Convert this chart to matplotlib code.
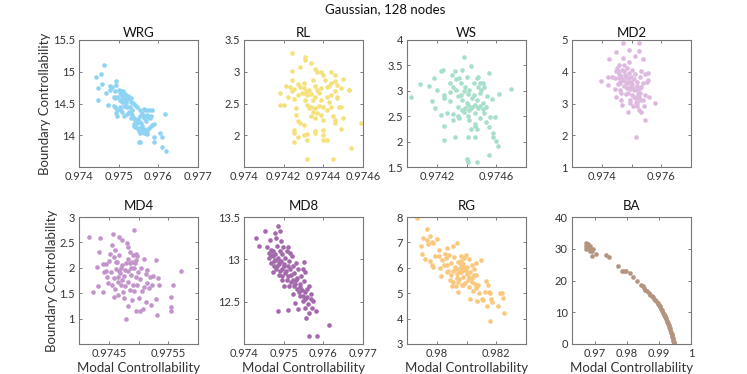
import matplotlib
matplotlib.use('Agg')
import matplotlib.pyplot as plt
from matplotlib.ticker import FuncFormatter

plt.rcParams['font.family'] = ['Lato', 'DejaVu Sans']

# ---- data ----
wrg_x = [0.97463, 0.97443, 0.97455, 0.97447, 0.97449, 0.97459, 0.97469, 0.97473, 0.97479, 0.97483,
         0.97477, 0.97494, 0.97493, 0.97487, 0.97492, 0.97490, 0.97494, 0.97497, 0.97500, 0.97504,
         0.97506, 0.97511, 0.97514, 0.97504, 0.97508, 0.97513, 0.97517, 0.97519, 0.97524, 0.97528,
         0.97534, 0.97503, 0.97506, 0.97509, 0.97514, 0.97521, 0.97525, 0.97530, 0.97534, 0.97538,
         0.97542, 0.97547, 0.97538, 0.97548, 0.97555, 0.97559, 0.97564, 0.97565, 0.97569, 0.97572,
         0.97576, 0.97585, 0.97538, 0.97542, 0.97547, 0.97555, 0.97559, 0.97564, 0.97568, 0.97572,
         0.97576, 0.97581, 0.97585, 0.97589, 0.97551, 0.97555, 0.97564, 0.97568, 0.97572, 0.97553,
         0.97562, 0.97551, 0.97555, 0.97589, 0.97589, 0.97604, 0.97610, 0.97608, 0.97616, 0.97619,
         0.97564, 0.97569, 0.97574, 0.97579, 0.97582, 0.97521, 0.97525, 0.97530, 0.97532, 0.97536,
         0.97542, 0.97547, 0.97487, 0.97496, 0.97503, 0.97506, 0.97492, 0.97497, 0.97516, 0.97523,
         0.97511, 0.97551, 0.97557, 0.97553, 0.97532]
wrg_y = [15.11, 14.91, 14.96, 14.74, 14.56, 14.80, 14.67, 14.48, 14.78, 14.76,
         14.72, 14.86, 14.79, 14.61, 14.58, 14.44, 14.35, 14.30, 14.72, 14.66,
         14.70, 14.69, 14.61, 14.56, 14.52, 14.46, 14.56, 14.51, 14.57, 14.45,
         14.40, 14.44, 14.40, 14.36, 14.30, 14.34, 14.37, 14.35, 14.32, 14.27,
         14.24, 14.19, 14.18, 14.25, 14.40, 14.35, 14.31, 14.42, 14.39, 14.32,
         14.40, 14.40, 14.15, 14.13, 14.11, 14.11, 14.14, 14.10, 14.08, 14.06,
         14.12, 14.15, 14.16, 14.18, 14.06, 14.03, 14.04, 14.03, 14.02, 14.09,
         14.09, 13.90, 13.90, 13.89, 13.98, 14.03, 13.97, 13.81, 14.33, 13.75,
         14.27, 14.23, 14.29, 14.27, 14.31, 14.45, 14.61, 14.58, 14.53, 14.51,
         14.48, 14.44, 14.46, 14.40, 14.56, 14.64, 14.69, 14.61, 14.65, 14.62,
         14.60, 14.22, 14.19, 14.30, 14.27]

rl_x = [0.97424, 0.97431, 0.97431, 0.97434, 0.97428, 0.97424, 0.97436, 0.97437, 0.97439, 0.97440,
        0.97444, 0.97450, 0.97441, 0.97446, 0.97444, 0.97443, 0.97447, 0.97449, 0.97453, 0.97453,
        0.97446, 0.97447, 0.97444, 0.97442, 0.97418, 0.97422, 0.97421, 0.97423, 0.97424, 0.97425,
        0.97427, 0.97428, 0.97430, 0.97430, 0.97429, 0.97431, 0.97432, 0.97432, 0.97433, 0.97434,
        0.97436, 0.97437, 0.97438, 0.97439, 0.97435, 0.97431, 0.97425, 0.97418, 0.97420, 0.97426,
        0.97426, 0.97432, 0.97433, 0.97434, 0.97436, 0.97438, 0.97440, 0.97435, 0.97437, 0.97434,
        0.97436, 0.97439, 0.97440, 0.97442, 0.97444, 0.97448, 0.97449, 0.97445, 0.97446, 0.97450,
        0.97446, 0.97449, 0.97427, 0.97428, 0.97430, 0.97425, 0.97425, 0.97425, 0.97427, 0.97430,
        0.97432, 0.97432, 0.97436, 0.97436, 0.97440, 0.97440, 0.97440, 0.97442, 0.97454, 0.97459,
        0.97432, 0.97445, 0.97446, 0.97442, 0.97435, 0.97424, 0.97427, 0.97439, 0.97436, 0.97447,
        0.97443]
rl_y = [3.29, 3.24, 3.19, 3.13, 3.08, 3.01, 3.05, 3.00, 2.99, 2.95,
        2.99, 2.88, 2.87, 2.85, 2.82, 2.77, 2.79, 2.74, 2.71, 2.72,
        2.69, 2.61, 2.64, 2.61, 2.66, 2.61, 2.77, 2.76, 2.69, 2.73,
        2.81, 2.76, 2.82, 2.74, 2.67, 2.66, 2.69, 2.63, 2.71, 2.65,
        2.78, 2.71, 2.66, 2.74, 2.56, 2.56, 2.57, 2.48, 2.48, 2.43,
        2.32, 2.48, 2.43, 2.45, 2.43, 2.46, 2.44, 2.37, 2.35, 2.30,
        2.27, 2.32, 2.24, 2.40, 2.45, 2.44, 2.44, 2.30, 2.24, 2.27,
        2.19, 2.10, 2.22, 2.19, 2.16, 2.08, 2.04, 1.90, 1.98, 2.01,
        2.02, 1.93, 2.06, 2.03, 2.09, 2.01, 1.93, 1.92, 1.80, 2.20,
        1.63, 1.63, 2.95, 2.76, 2.87, 2.87, 2.64, 2.56, 2.61, 2.58,
        2.53]

ws_x = [0.97403, 0.97409, 0.97415, 0.97418, 0.97420, 0.97417, 0.97419, 0.97423, 0.97424, 0.97423,
        0.97425, 0.97425, 0.97425, 0.97429, 0.97429, 0.97430, 0.97431, 0.97431, 0.97432, 0.97432,
        0.97433, 0.97434, 0.97434, 0.97435, 0.97436, 0.97437, 0.97437, 0.97438, 0.97438, 0.97439,
        0.97440, 0.97440, 0.97440, 0.97441, 0.97441, 0.97441, 0.97442, 0.97442, 0.97443, 0.97443,
        0.97444, 0.97444, 0.97445, 0.97446, 0.97446, 0.97446, 0.97447, 0.97447, 0.97447, 0.97448,
        0.97448, 0.97449, 0.97449, 0.97449, 0.97450, 0.97451, 0.97451, 0.97452, 0.97452, 0.97453,
        0.97453, 0.97454, 0.97455, 0.97455, 0.97455, 0.97456, 0.97457, 0.97458, 0.97458, 0.97459,
        0.97460, 0.97461, 0.97462, 0.97470, 0.97425, 0.97427, 0.97431, 0.97434, 0.97437, 0.97439,
        0.97441, 0.97443, 0.97446, 0.97449, 0.97451, 0.97442, 0.97446, 0.97447, 0.97436, 0.97438,
        0.97441, 0.97445, 0.97448, 0.97429, 0.97433, 0.97435]
ws_y = [2.87, 3.13, 3.10, 3.26, 3.02, 2.79, 2.66, 3.38, 3.41, 2.53,
        2.86, 2.30, 2.04, 2.97, 2.79, 3.31, 2.55, 3.07, 3.38, 2.10,
        3.23, 2.89, 2.69, 2.46, 3.15, 3.40, 2.82, 3.67, 2.59, 3.07,
        3.28, 1.65, 2.76, 1.59, 2.51, 2.09, 3.02, 2.63, 3.48, 2.25,
        2.86, 2.69, 3.15, 2.56, 2.31, 2.10, 3.25, 1.59, 2.82, 3.07,
        2.66, 2.95, 2.46, 3.15, 3.02, 2.76, 3.16, 2.56, 3.07, 2.38,
        2.69, 2.90, 3.35, 2.29, 1.74, 2.48, 2.84, 2.16, 2.09, 2.48,
        2.01, 1.92, 2.94, 3.03, 2.92, 2.56, 2.43, 2.51, 2.63, 2.66,
        2.73, 2.66, 2.73, 2.71, 2.64, 2.43, 2.35, 2.25, 2.92, 2.99,
        2.94, 2.92, 3.28, 3.15, 3.02, 3.25]

md2_x = [0.97397, 0.97421, 0.97425, 0.97433, 0.97444, 0.97449, 0.97449, 0.97450, 0.97454, 0.97457,
         0.97459, 0.97459, 0.97460, 0.97462, 0.97465, 0.97466, 0.97468, 0.97470, 0.97471, 0.97473,
         0.97475, 0.97477, 0.97480, 0.97482, 0.97484, 0.97485, 0.97487, 0.97490, 0.97492, 0.97492,
         0.97494, 0.97496, 0.97497, 0.97500, 0.97500, 0.97502, 0.97506, 0.97508, 0.97510, 0.97512,
         0.97512, 0.97515, 0.97515, 0.97518, 0.97520, 0.97522, 0.97524, 0.97524, 0.97526, 0.97527,
         0.97528, 0.97530, 0.97533, 0.97533, 0.97538, 0.97540, 0.97542, 0.97545, 0.97545, 0.97547,
         0.97551, 0.97554, 0.97556, 0.97558, 0.97578, 0.97420, 0.97446, 0.97454, 0.97463, 0.97468,
         0.97475, 0.97480, 0.97484, 0.97487, 0.97487, 0.97494, 0.97498, 0.97506, 0.97508, 0.97515,
         0.97520, 0.97524, 0.97520, 0.97528, 0.97533, 0.97538, 0.97518, 0.97496, 0.97466, 0.97460,
         0.97449, 0.97475, 0.97492]
md2_y = [3.72, 3.59, 4.39, 3.83, 3.45, 4.63, 3.22, 4.11, 4.01, 3.80,
         4.21, 3.93, 3.64, 3.43, 3.12, 3.83, 2.96, 4.42, 4.92, 3.74,
         3.55, 3.90, 3.30, 3.83, 4.11, 3.48, 2.72, 3.95, 3.69, 4.32,
         3.12, 3.45, 3.83, 4.06, 3.27, 3.62, 2.91, 3.77, 3.41, 3.93,
         4.50, 3.17, 1.94, 3.55, 3.69, 3.30, 4.90, 2.80, 4.66, 3.48,
         3.83, 3.12, 4.01, 2.72, 4.39, 3.64, 2.93, 3.93, 3.27, 2.47,
         3.69, 3.97, 3.74, 3.20, 3.01, 3.83, 3.80, 3.62, 3.69, 4.06,
         4.01, 3.69, 3.64, 3.80, 3.32, 3.53, 3.69, 3.48, 3.22, 3.06,
         3.43, 3.22, 3.01, 3.32, 3.53, 3.12, 2.91, 3.01, 3.32, 3.90,
         4.01, 4.21, 4.69]

md4_x = [0.97417, 0.97423, 0.97430, 0.97432, 0.97434, 0.97435, 0.97440, 0.97441, 0.97442, 0.97445,
         0.97446, 0.97447, 0.97448, 0.97450, 0.97452, 0.97453, 0.97455, 0.97456, 0.97457, 0.97458,
         0.97458, 0.97459, 0.97461, 0.97461, 0.97463, 0.97464, 0.97465, 0.97466, 0.97468, 0.97468,
         0.97469, 0.97470, 0.97472, 0.97472, 0.97474, 0.97475, 0.97476, 0.97478, 0.97479, 0.97479,
         0.97481, 0.97482, 0.97482, 0.97483, 0.97483, 0.97485, 0.97485, 0.97486, 0.97487, 0.97489,
         0.97489, 0.97491, 0.97491, 0.97492, 0.97492, 0.97493, 0.97495, 0.97495, 0.97496, 0.97496,
         0.97497, 0.97497, 0.97499, 0.97500, 0.97502, 0.97503, 0.97504, 0.97506, 0.97508, 0.97509,
         0.97510, 0.97512, 0.97513, 0.97514, 0.97515, 0.97517, 0.97519, 0.97521, 0.97523, 0.97525,
         0.97530, 0.97530, 0.97531, 0.97532, 0.97534, 0.97554, 0.97554, 0.97554, 0.97558, 0.97571,
         0.97463, 0.97467, 0.97473, 0.97478, 0.97483, 0.97488, 0.97494, 0.97465, 0.97470]
md4_y = [2.61, 1.52, 2.02, 1.65, 2.31, 2.59, 2.07, 1.52, 1.91, 2.07,
         1.93, 1.82, 1.71, 2.13, 2.28, 1.91, 2.45, 1.67, 2.67, 2.22,
         1.43, 1.79, 2.35, 1.59, 1.97, 2.12, 1.73, 1.46, 2.61, 2.25,
         1.89, 1.66, 2.54, 2.05, 1.53, 1.40, 1.84, 1.65, 2.09, 0.99,
         2.48, 1.93, 1.25, 2.41, 1.73, 2.10, 1.56, 2.31, 1.86, 2.12,
         1.37, 2.25, 1.67, 2.74, 1.99, 1.54, 2.28, 1.82, 2.15, 1.15,
         2.23, 1.66, 1.91, 1.40, 1.14, 1.78, 2.00, 1.54, 1.19, 1.63,
         2.17, 1.32, 1.87, 1.71, 1.95, 1.61, 1.82, 1.27, 1.66, 1.84,
         2.15, 1.38, 1.07, 1.80, 1.66, 1.43, 1.23, 1.15, 1.66, 1.93,
         2.12, 1.93, 1.76, 1.95, 2.18, 2.00, 2.09, 1.82, 1.99]

md8_x = [0.97431, 0.97439, 0.97453, 0.97459, 0.97462, 0.97463, 0.97466, 0.97468, 0.97469, 0.97472,
         0.97472, 0.97475, 0.97476, 0.97478, 0.97479, 0.97481, 0.97481, 0.97483, 0.97485, 0.97485,
         0.97486, 0.97487, 0.97489, 0.97491, 0.97492, 0.97493, 0.97494, 0.97495, 0.97497, 0.97497,
         0.97498, 0.97500, 0.97502, 0.97503, 0.97506, 0.97508, 0.97510, 0.97512, 0.97512, 0.97514,
         0.97517, 0.97519, 0.97520, 0.97523, 0.97524, 0.97525, 0.97527, 0.97529, 0.97531, 0.97534,
         0.97536, 0.97537, 0.97540, 0.97542, 0.97544, 0.97546, 0.97548, 0.97551, 0.97551, 0.97553,
         0.97554, 0.97555, 0.97557, 0.97559, 0.97561, 0.97563, 0.97565, 0.97568, 0.97569, 0.97572,
         0.97574, 0.97582, 0.97565, 0.97584, 0.97614, 0.97468, 0.97473, 0.97478, 0.97483, 0.97489,
         0.97492, 0.97496, 0.97502, 0.97504, 0.97508, 0.97514, 0.97519, 0.97523, 0.97529, 0.97534,
         0.97538, 0.97542, 0.97548, 0.97554, 0.97559, 0.97548, 0.97531, 0.97517, 0.97510]
md8_y = [13.25, 13.16, 13.34, 13.14, 13.08, 13.02, 13.23, 12.96, 13.05, 13.10,
         12.85, 12.98, 12.92, 13.31, 13.06, 12.88, 13.25, 13.16, 13.39, 12.39,
         13.02, 12.94, 12.82, 13.10, 13.33, 12.98, 13.22, 12.88, 13.06, 12.76,
         13.14, 12.95, 12.69, 13.02, 12.86, 13.10, 12.92, 12.80, 12.40, 12.98,
         12.88, 12.73, 13.04, 12.59, 12.92, 12.84, 12.69, 12.49, 12.76, 12.65,
         12.41, 12.89, 12.71, 12.57, 12.80, 12.64, 12.51, 12.97, 12.74, 12.43,
         12.85, 12.61, 12.31, 12.55, 12.47, 12.69, 12.37, 12.53, 12.59, 12.42,
         12.51, 12.39, 12.10, 12.09, 12.22, 13.11, 13.04, 12.99, 12.92, 12.97,
         12.86, 12.80, 12.92, 12.84, 12.76, 12.69, 12.82, 12.76, 12.71, 12.78,
         12.61, 12.67, 12.57, 12.53, 12.65, 12.88, 12.96, 13.08, 13.14]

rg_x = [0.97933, 0.97967, 0.97976, 0.97953, 0.97947, 0.97950, 0.97959, 0.97967, 0.97972, 0.97983,
        0.97987, 0.98000, 0.97978, 0.97983, 0.97987, 0.97994, 0.98006, 0.98009, 0.98011, 0.98013,
        0.98028, 0.98031, 0.98033, 0.98036, 0.98039, 0.98042, 0.98044, 0.98047, 0.98050, 0.98053,
        0.98056, 0.98058, 0.98061, 0.98064, 0.98067, 0.98069, 0.98072, 0.98073, 0.98076, 0.98078,
        0.98080, 0.98083, 0.98084, 0.98087, 0.98089, 0.98091, 0.98093, 0.98096, 0.98098, 0.98100,
        0.98102, 0.98104, 0.98107, 0.98109, 0.98111, 0.98113, 0.98117, 0.98120, 0.98122, 0.98124,
        0.98128, 0.98131, 0.98133, 0.98136, 0.98139, 0.98142, 0.98150, 0.98153, 0.98156, 0.98161,
        0.98167, 0.98169, 0.98172, 0.98176, 0.98178, 0.98180, 0.98183, 0.98187, 0.98206, 0.98211,
        0.98220, 0.98222, 0.98227, 0.98047, 0.98056, 0.98064, 0.98072, 0.98080, 0.98089, 0.98098,
        0.98107, 0.98117, 0.98124, 0.98133, 0.98036, 0.98024, 0.98017, 0.98083, 0.98091, 0.98076,
        0.98067]
rg_y = [7.98, 7.52, 7.26, 7.18, 6.87, 6.56, 6.34, 7.09, 6.92, 7.00,
        6.96, 7.15, 6.26, 6.10, 6.04, 6.47, 6.70, 6.47, 6.00, 5.69,
        6.56, 6.39, 6.10, 6.79, 5.87, 6.50, 5.51, 6.17, 5.29, 5.87,
        6.87, 6.43, 6.04, 5.29, 6.96, 5.74, 6.24, 5.03, 5.55, 6.00,
        6.47, 5.82, 5.32, 6.13, 5.65, 6.37, 5.91, 5.42, 6.50, 5.74,
        6.04, 5.51, 6.34, 5.25, 5.82, 4.79, 6.10, 5.58, 5.08, 5.97,
        5.38, 6.17, 5.71, 4.69, 5.32, 4.99, 6.30, 4.79, 4.73, 5.03,
        5.48, 4.50, 5.32, 5.03, 3.90, 4.99, 4.77, 4.66, 4.50, 4.99,
        4.99, 4.82, 4.24, 5.71, 5.45, 5.97, 5.45, 6.10, 5.32, 5.91,
        5.65, 5.45, 5.71, 5.19, 5.82, 6.10, 6.30, 6.26, 6.00, 5.82,
        5.61]

ba_x = [0.96746, 0.96767, 0.96798, 0.96725, 0.96798, 0.96851, 0.96830, 0.96871, 0.96903, 0.96934,
        0.96955, 0.96851, 0.96746, 0.96913, 0.97060, 0.97352, 0.97457, 0.97739, 0.97864, 0.97916,
        0.97979, 0.98104, 0.98313, 0.98439, 0.98502, 0.98543, 0.98627, 0.98679, 0.98731, 0.98815,
        0.98857, 0.98920, 0.98961, 0.99003, 0.99045, 0.99076, 0.99108, 0.99149, 0.99181, 0.99212,
        0.99243, 0.99275, 0.99306, 0.99338, 0.99358, 0.99390, 0.99411, 0.99432, 0.99452, 0.99473,
        0.98888, 0.99024, 0.99129, 0.99191, 0.99254, 0.99296, 0.99327, 0.99369, 0.99400, 0.99421,
        0.99442, 0.99463, 0.99484, 0.99233, 0.99170, 0.99087, 0.98982, 0.98784, 0.98585, 0.98209]
ba_y = [31.8, 31.1, 31.5, 30.8, 30.3, 30.8, 30.0, 30.3, 29.7, 29.4,
        30.0, 29.4, 30.0, 27.8, 28.4, 27.9, 27.4, 24.5, 23.1, 23.1,
        23.1, 22.4, 19.7, 18.7, 18.2, 17.6, 16.6, 16.1, 15.5, 14.7,
        14.3, 13.4, 12.9, 12.4, 11.7, 11.0, 10.3, 9.5, 8.9, 8.2,
        7.4, 6.6, 5.9, 5.0, 4.3, 3.5, 2.7, 1.9, 1.1, 0.4,
        13.9, 12.0, 9.9, 8.6, 7.0, 6.2, 5.5, 3.9, 3.2, 2.3,
        1.5, 0.7, 0.2, 7.8, 9.2, 10.7, 12.7, 15.0, 17.1, 21.0]

names = ['WRG', 'RL', 'WS', 'MD2', 'MD4', 'MD8', 'RG', 'BA']
xs = [wrg_x, rl_x, ws_x, md2_x, md4_x, md8_x, rg_x, ba_x]
ys = [wrg_y, rl_y, ws_y, md2_y, md4_y, md8_y, rg_y, ba_y]
colors = ['#8fd3f4', '#f5e17c', '#a6dfca', '#ddb9df', '#c294cb', '#a468ad', '#f9c87d', '#b39480']

xlims = [(0.974, 0.977), (0.974, 0.9746), (0.974, 0.9748), (0.973, 0.977),
         (0.974, 0.976), (0.974, 0.977), (0.979, 0.983), (0.963, 1.0)]
ylims = [(13.5, 15.5), (1.5, 3.5), (1.5, 4), (1, 5),
         (0.5, 3), (12, 13.5), (3, 8), (0, 40)]
xticks = [[0.974, 0.975, 0.976, 0.977], [0.974, 0.9742, 0.9744, 0.9746], [0.9742, 0.9744, 0.9746],
          [0.974, 0.975, 0.976], [0.9745, 0.975, 0.9755], [0.974, 0.975, 0.976, 0.977],
          [0.98, 0.981, 0.982], [0.97, 0.98, 0.99, 1.0]]
xticklabels = [['0.974', '0.975', '0.976', '0.977'], ['0.974', '0.9742', '0.9744', '0.9746'],
               ['0.9742', '', '0.9746'], ['0.974', '', '0.976'], ['0.9745', '', '0.9755'],
               ['0.974', '0.975', '0.976', '0.977'], ['0.98', '', '0.982'],
               ['0.97', '0.98', '0.99', '1']]
yticks = [[14, 14.5, 15, 15.5], [2, 2.5, 3, 3.5], [1.5, 2, 2.5, 3, 3.5, 4], [1, 2, 3, 4, 5],
          [1, 1.5, 2, 2.5, 3], [12.5, 13, 13.5], [3, 4, 5, 6, 7, 8], [0, 10, 20, 30, 40]]

W, H = 747, 374
fig = plt.figure(figsize=(W / 100, H / 100), dpi=100)
lefts = [79, 244, 407, 572]
tops = [40, 217]
aw, ah = 119, 127

fmt = FuncFormatter(lambda v, p: '%g' % v)
txt = '#333333'

for i in range(8):
    r, c = divmod(i, 4)
    ax = fig.add_axes([lefts[c] / W, 1 - (tops[r] + ah) / H, aw / W, ah / H])
    ax.scatter(xs[i], ys[i], s=11, c=colors[i], linewidths=0)
    ax.set_xlim(xlims[i])
    ax.set_ylim(ylims[i])
    ax.set_xticks(xticks[i])
    ax.set_xticklabels(xticklabels[i])
    ax.set_yticks(yticks[i])
    ax.yaxis.set_major_formatter(fmt)
    ax.tick_params(direction='in', top=True, right=True, length=2.5, width=0.6,
                   labelsize=8, colors='#666666', labelcolor=txt, pad=3)
    for s in ax.spines.values():
        s.set_color('#777777')
        s.set_linewidth(0.8)
    ax.set_title(names[i], fontsize=9.5, color='#111111', pad=2.5 if r == 0 else 5)
    if c == 0:
        ax.set_ylabel('Boundary Controllability', fontsize=9.5, color=txt, labelpad=1)
    if r == 1:
        ax.set_xlabel('Modal Controllability', fontsize=9.5, color=txt, labelpad=2)

fig.text(385 / W, 1 - 9 / H, 'Gaussian, 128 nodes', ha='center', va='center',
         fontsize=9.5, color='#111111')

fig.savefig('out.png', dpi=100)
